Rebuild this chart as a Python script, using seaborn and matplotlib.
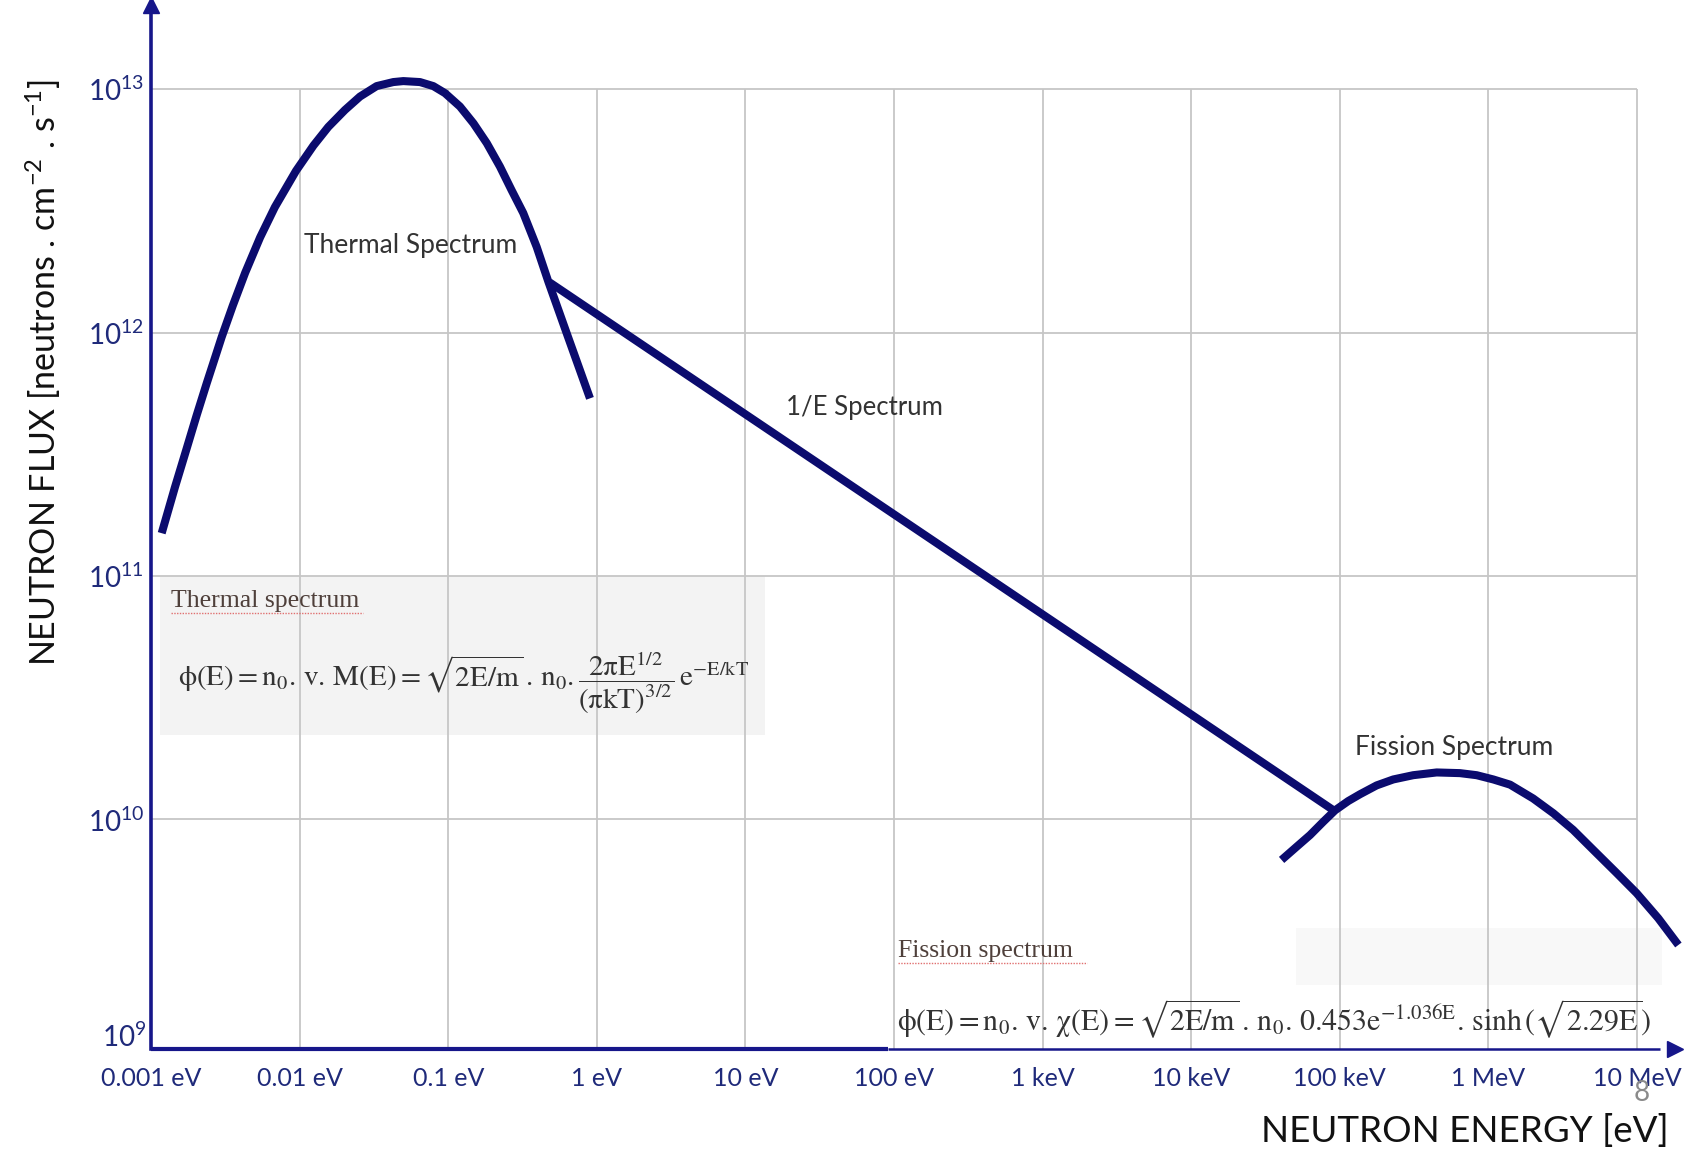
import matplotlib
matplotlib.use("Agg")
import matplotlib.pyplot as plt
import seaborn as sns
from matplotlib.patches import Rectangle

# ---------------- data ----------------
thermal_E = [1.18e-3, 1.45e-3, 1.74e-3, 2.03e-3, 2.37e-3, 2.74e-3, 2.99e-3, 3.55e-3,
             4.30e-3, 5.42e-3, 6.82e-3, 9.46e-3, 1.24e-2, 1.56e-2, 2.02e-2, 2.55e-2,
             3.30e-2, 4.27e-2, 4.99e-2, 6.46e-2, 7.94e-2, 9.51e-2, 0.120, 0.148,
             0.182, 0.223, 0.267, 0.320, 0.394, 0.472, 0.627, 0.900]
thermal_flux = [1.50e11, 2.32e11, 3.35e11, 4.58e11, 6.19e11, 8.13e11, 9.59e11, 1.29e12,
                1.76e12, 2.46e12, 3.28e12, 4.62e12, 5.87e12, 7.00e12, 8.22e12, 9.33e12,
                1.03e13, 1.07e13, 1.08e13, 1.07e13, 1.03e13, 9.64e12, 8.49e12, 7.24e12,
                6.00e12, 4.81e12, 3.85e12, 3.10e12, 2.25e12, 1.62e12, 9.95e11, 5.37e11]
epi_E = [0.48, 9.3e4]
epi_flux = [1.61e12, 1.08e10]
fission_E = [4.06e4, 5.13e4, 6.31e4, 7.75e4, 9.29e4, 1.14e5, 1.37e5, 1.77e5, 2.29e5,
             3.12e5, 4.49e5, 6.44e5, 8.34e5, 1.08e6, 1.40e6, 2.00e6, 2.74e6, 3.72e6,
             5.08e6, 7.29e6, 9.95e6, 1.39e7, 1.90e7]
fission_flux = [6.82e9, 7.73e9, 8.63e9, 9.79e9, 1.09e10, 1.19e10, 1.27e10, 1.38e10,
                1.46e10, 1.52e10, 1.56e10, 1.55e10, 1.52e10, 1.46e10, 1.39e10, 1.22e10,
                1.06e10, 9.06e9, 7.50e9, 6.03e9, 4.98e9, 3.93e9, 3.05e9]

x_ticks = [1e-3, 1e-2, 1e-1, 1e0, 1e1, 1e2, 1e3, 1e4, 1e5, 1e6, 1e7]
x_tick_labels = ["0.001 eV", "0.01 eV", "0.1 eV", "1 eV", "10 eV", "100 eV",
                 "1 keV", "10 keV", "100 keV", "1 MeV", "10 MeV"]
y_grid = [1e10, 1e11, 1e12, 1e13]
y_tick_labels = [r"$10^{10}$", r"$10^{11}$", r"$10^{12}$", r"$10^{13}$"]
y_bottom_label = r"$10^{9}$"

# ---------------- style ----------------
sns.set_theme(style="white")
plt.rcParams["font.family"] = ["Lato", "DejaVu Sans"]
plt.rcParams["mathtext.fontset"] = "custom"
plt.rcParams["mathtext.rm"] = "Lato"
plt.rcParams["mathtext.it"] = "Lato:italic"
plt.rcParams["mathtext.bf"] = "Lato:bold"

NAVY = "#0b0b6e"
AXIS = "#16168a"
TICK = "#1f2a7a"
GRID = "#c6c6c6"

W, H = 1694, 1151
fig = plt.figure(figsize=(W / 100, H / 100), dpi=100)
fig.patch.set_facecolor("white")
L, R, T, B = 151, 1675, 5, 1049
ax = fig.add_axes([L / W, 1 - B / H, (R - L) / W, (B - T) / H])


def pa(x, y):
    return ((x - L) / (R - L), (B - y) / (B - T))


ax.set_xscale("log")
ax.set_yscale("log")
ax.set_xlim(1e-3, 10 ** 7.256)
ax.set_ylim(10 ** 9.057, 10 ** 13.346)
ax.set_facecolor("white")

# grid (box limited to the decades)
ax.hlines(y_grid, 1e-3, 1e7, color=GRID, lw=1.3, zorder=1)
ax.vlines(x_ticks[1:], 10 ** 9.057, 1e13, color=GRID, lw=1.3, zorder=1)

# formula boxes
ax.add_patch(Rectangle(pa(160, 735), (765 - 160) / (R - L), (735 - 576) / (B - T),
                       transform=ax.transAxes, facecolor="#f3f3f3", edgecolor="none", zorder=0.5))
ax.add_patch(Rectangle(pa(1296, 985), (1662 - 1296) / (R - L), (985 - 928) / (B - T),
                       transform=ax.transAxes, facecolor="#f8f8f8", edgecolor="none", zorder=0.5))

# curves
for xs, ys in [(thermal_E, thermal_flux), (epi_E, epi_flux), (fission_E, fission_flux)]:
    sns.lineplot(x=xs, y=ys, ax=ax, color=NAVY, linewidth=5.8, estimator=None, sort=False,
                 solid_capstyle="butt", solid_joinstyle="round", zorder=5, clip_on=False)

# axes lines and arrows
for s in ["top", "right", "bottom"]:
    ax.spines[s].set_visible(False)
ax.spines["left"].set_color(AXIS)
ax.spines["left"].set_linewidth(2.6)
ax.plot([0, pa(888, 0)[0]], [0, 0], transform=ax.transAxes, color=AXIS, lw=3.0,
        clip_on=False, zorder=6, solid_capstyle="butt")
ax.plot([pa(888, 0)[0], 0.99], [0, 0], transform=ax.transAxes, color=AXIS, lw=1.8,
        clip_on=False, zorder=6, solid_capstyle="butt")
ax.plot([1], [0], marker=">", ms=11, color=AXIS, transform=ax.transAxes, clip_on=False, zorder=7)
ax.plot([0], [1], marker="^", ms=11, color=AXIS, transform=ax.transAxes, clip_on=False, zorder=7)

# ticks
ax.set_xticks(x_ticks)
ax.set_xticklabels(x_tick_labels)
ax.set_yticks(y_grid)
ax.set_yticklabels(y_tick_labels)
ax.minorticks_off()
ax.tick_params(axis="x", length=0, pad=13, labelsize=18, labelcolor=TICK)
ax.tick_params(axis="y", length=0, pad=5, labelsize=20, labelcolor=TICK)
ax.text(*pa(146, 1037), y_bottom_label, transform=ax.transAxes, ha="right", va="center",
        fontsize=20, color=TICK)
ax.set_xlabel("")
ax.set_ylabel("")

# axis titles
fig.text(43 / W, 1 - 373 / H, r"NEUTRON FLUX [neutrons . cm$^{-2}$ . s$^{-1}$]",
         rotation=90, ha="center", va="center", fontsize=24.5, color="#111111")
fig.text(1669 / W, 1 - 1131 / H, "NEUTRON ENERGY [eV]", ha="right", va="center",
         fontsize=26.5, color="#111111")

# curve labels
LAB = "#333333"
ax.text(*pa(411, 245), "Thermal Spectrum", transform=ax.transAxes, ha="center", va="center",
        fontsize=19, color=LAB, zorder=8)
ax.text(*pa(864, 407), "1/E Spectrum", transform=ax.transAxes, ha="center", va="center",
        fontsize=18.5, color=LAB, zorder=8)
ax.text(*pa(1454, 747), "Fission Spectrum", transform=ax.transAxes, ha="center", va="center",
        fontsize=19, color=LAB, zorder=8)

# formula boxes text
SER = "#4f403b"
ax.text(*pa(171, 601), "Thermal spectrum", transform=ax.transAxes, ha="left", va="center",
        fontsize=18.5, color=SER, family="Liberation Serif", zorder=8)
ax.plot([pa(171, 0)[0], pa(363, 0)[0]], [pa(0, 613)[1]] * 2, transform=ax.transAxes,
        color="#e07070", lw=1.0, ls=(0, (1, 1)), zorder=8)
ax.text(*pa(178, 683),
        r"$\mathrm{\phi(E)} = \mathrm{n_0.\,v.\,M(E)} = \sqrt{2\mathrm{E/m}}\,.\,\mathrm{n_0.}"
        r"\dfrac{2\mathrm{\pi E}^{1/2}}{(\mathrm{\pi kT})^{3/2}}\,\mathrm{e}^{-\mathrm{E/kT}}$",
        transform=ax.transAxes, ha="left", va="center", fontsize=21, color="#333333",
        math_fontfamily="stix", zorder=8)

ax.text(*pa(898, 951), "Fission spectrum", transform=ax.transAxes, ha="left", va="center",
        fontsize=18.5, color=SER, family="Liberation Serif", zorder=8)
ax.plot([pa(898, 0)[0], pa(1087, 0)[0]], [pa(0, 963)[1]] * 2, transform=ax.transAxes,
        color="#e07070", lw=1.0, ls=(0, (1, 1)), zorder=8)
ax.text(*pa(897, 1019),
        r"$\mathrm{\phi(E)} = \mathrm{n_0.\,v.\,\chi(E)} = \sqrt{2\mathrm{E/m}}\,.\,"
        r"\mathrm{n_0.\,0.453e^{-1.036E}.\,sinh}\,(\sqrt{2.29\mathrm{E}})$",
        transform=ax.transAxes, ha="left", va="center", fontsize=21.5, color="#333333",
        math_fontfamily="stix", zorder=8)

# slide number
fig.text(1642 / W, 1 - 1093 / H, "8", ha="center", va="center", fontsize=20, color="#8a8a8a")

fig.savefig("out.png", dpi=100, facecolor="white")
